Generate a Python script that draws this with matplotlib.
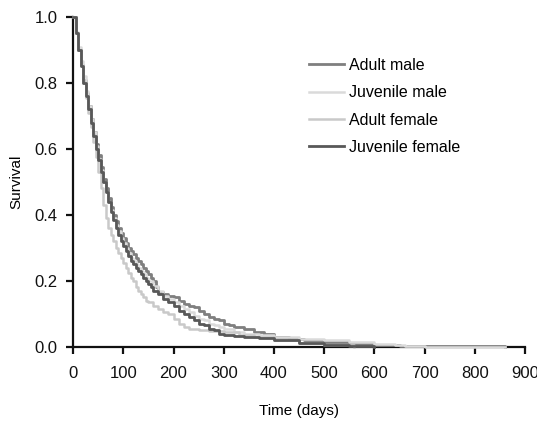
import matplotlib.pyplot as plt
import numpy as np

plt.rcParams['font.family'] = ['Liberation Sans', 'DejaVu Sans']

# Survival curves (days, proportion surviving)
adult_male_t = [0, 5, 10, 15, 20, 25, 30, 35, 40, 45, 50, 55, 60, 65, 70, 75,
                80, 85, 90, 95, 100, 105, 110, 115, 120, 125, 130, 135, 140,
                145, 150, 155, 160, 165, 170, 180, 190, 200, 210, 220, 230,
                240, 250, 260, 270, 280, 290, 300, 310, 320, 340, 360, 380,
                400, 430, 460, 500, 550, 600, 650, 700, 860]
adult_male_s = [1.0, 0.95, 0.9, 0.855, 0.81, 0.77, 0.73, 0.69, 0.65, 0.615,
                0.58, 0.545, 0.51, 0.48, 0.45, 0.425, 0.4, 0.38, 0.36, 0.345,
                0.33, 0.315, 0.3, 0.29, 0.28, 0.27, 0.26, 0.25, 0.24, 0.23,
                0.22, 0.21, 0.2, 0.18, 0.165, 0.16, 0.155, 0.15, 0.14, 0.13,
                0.125, 0.12, 0.11, 0.1, 0.09, 0.085, 0.08, 0.07, 0.065, 0.06,
                0.055, 0.045, 0.04, 0.03, 0.025, 0.02, 0.015, 0.01, 0.007,
                0.004, 0.002, 0.0]

juv_male_t = [0, 5, 10, 15, 20, 25, 30, 35, 40, 45, 50, 55, 60, 65, 70, 75,
              80, 85, 90, 95, 100, 105, 110, 115, 120, 125, 130, 135, 140,
              145, 150, 160, 170, 180, 190, 200, 210, 220, 230, 240, 250,
              260, 270, 280, 290, 300, 320, 340, 370, 400, 450, 500, 550,
              600, 640, 660, 700, 860]
juv_male_s = [1.0, 0.955, 0.91, 0.865, 0.82, 0.775, 0.73, 0.69, 0.65, 0.61,
              0.57, 0.535, 0.5, 0.47, 0.44, 0.415, 0.39, 0.37, 0.35, 0.33,
              0.315, 0.3, 0.285, 0.27, 0.26, 0.25, 0.24, 0.23, 0.22, 0.21,
              0.2, 0.185, 0.17, 0.155, 0.145, 0.135, 0.125, 0.115, 0.105,
              0.095, 0.085, 0.08, 0.07, 0.065, 0.06, 0.055, 0.045, 0.04,
              0.035, 0.03, 0.025, 0.02, 0.015, 0.01, 0.006, 0.003, 0.0, 0.0]

adult_female_t = [0, 5, 10, 15, 20, 25, 30, 35, 40, 45, 50, 55, 60, 65, 70,
                  75, 80, 85, 90, 95, 100, 105, 110, 115, 120, 125, 130, 135,
                  140, 145, 150, 160, 170, 180, 190, 200, 210, 220, 230, 250,
                  270, 300, 330, 360, 400, 450, 500, 560]
adult_female_s = [1.0, 0.95, 0.9, 0.85, 0.8, 0.755, 0.71, 0.665, 0.62, 0.575,
                  0.53, 0.48, 0.43, 0.39, 0.36, 0.34, 0.32, 0.3, 0.285, 0.27,
                  0.255, 0.24, 0.225, 0.21, 0.2, 0.18, 0.17, 0.16, 0.15, 0.14,
                  0.135, 0.125, 0.115, 0.105, 0.1, 0.085, 0.07, 0.06, 0.055,
                  0.05, 0.048, 0.045, 0.035, 0.03, 0.02, 0.012, 0.006, 0.0]

juv_female_t = [0, 5, 10, 15, 20, 25, 30, 35, 40, 45, 50, 55, 60, 65, 70, 75,
                80, 85, 90, 95, 100, 105, 110, 115, 120, 125, 130, 135, 140,
                145, 150, 155, 160, 170, 180, 190, 200, 210, 220, 230, 240,
                250, 260, 270, 280, 290, 300, 320, 340, 370, 400, 450, 500,
                550, 600]
juv_female_s = [1.0, 0.95, 0.9, 0.85, 0.8, 0.76, 0.72, 0.68, 0.64, 0.6,
                0.565, 0.53, 0.5, 0.47, 0.44, 0.41, 0.385, 0.36, 0.34, 0.32,
                0.305, 0.29, 0.275, 0.26, 0.25, 0.24, 0.23, 0.22, 0.21, 0.2,
                0.19, 0.18, 0.17, 0.16, 0.145, 0.135, 0.125, 0.11, 0.1, 0.09,
                0.08, 0.07, 0.065, 0.055, 0.05, 0.04, 0.035, 0.032, 0.03,
                0.028, 0.02, 0.012, 0.005, 0.002, 0.0]

series = [
    ("Adult male", adult_male_t, adult_male_s, "#7f7f7f", 2.0),
    ("Juvenile male", juv_male_t, juv_male_s, "#dadada", 1.8),
    ("Adult female", adult_female_t, adult_female_s, "#c9c9c9", 1.8),
    ("Juvenile female", juv_female_t, juv_female_s, "#585858", 2.0),
]

fig = plt.figure(figsize=(5.37, 4.23), dpi=100)
ax = fig.add_axes([0.136, 0.18, 0.842, 0.78])

for label, t, s, color, lw in series:
    ax.plot(t, s, drawstyle="steps-post", color=color, lw=lw, label=label,
            zorder=3, clip_on=False)

ax.set_xlim(0, 900)
ax.set_ylim(0, 1.0)
ax.set_xticks(np.arange(0, 901, 100))
ax.set_yticks(np.arange(0, 1.01, 0.2))
ax.set_yticklabels([f"{v:.1f}" for v in np.arange(0, 1.01, 0.2)])

for side in ["top", "right"]:
    ax.spines[side].set_visible(False)
for side in ["left", "bottom"]:
    ax.spines[side].set_linewidth(1.6)
    ax.spines[side].set_color("#111111")
ax.tick_params(direction="out", length=5, width=1.6, labelsize=12,
               colors="#111111", pad=6)
ax.tick_params(axis="x", pad=9)

ax.set_xlabel("Time (days)", fontsize=11, labelpad=16)
ax.set_ylabel("Survival", fontsize=11, labelpad=8)

ax.legend(loc="upper left", bbox_to_anchor=(0.49, 0.92), frameon=False,
          fontsize=11.5, handlelength=2.2, handletextpad=0.3,
          labelspacing=0.78)

fig.savefig("out.png", dpi=100)
